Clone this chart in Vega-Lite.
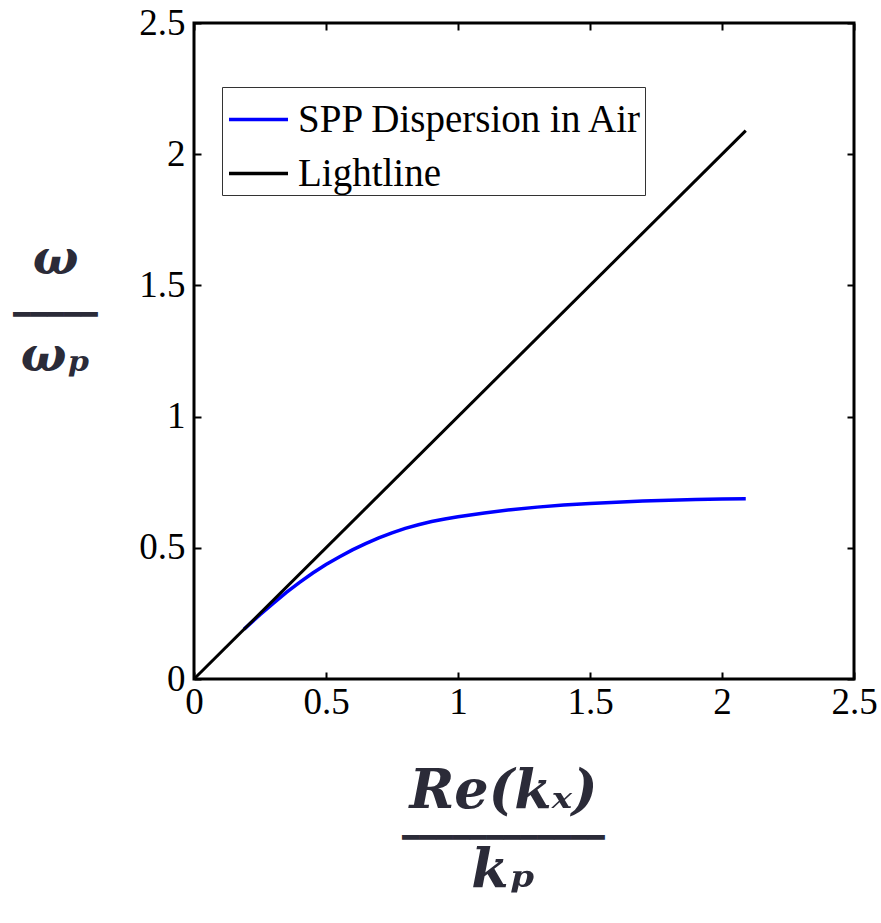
{
  "$schema": "https://vega.github.io/schema/vega-lite/v6.json",
  "width": 660,
  "height": 656,
  "autosize": {"type": "none"},
  "padding": {"left": 194, "top": 23, "right": 27, "bottom": 244},
  "background": "white",
  "config": {
    "view": {"stroke": "black", "strokeWidth": 3},
    "font": "Liberation Serif",
    "axis": {
      "domain": false,
      "grid": false,
      "format": "~g",
      "labelFont": "Liberation Serif",
      "labelFontSize": 37,
      "labelColor": "black",
      "labelFlush": false,
      "labelOverlap": false,
      "tickColor": "black",
      "tickWidth": 2,
      "tickSize": -7
    },
    "legend": {"labelFont": "Liberation Serif"}
  },
  "datasets": {
    "spp": [
      {"series": "SPP Dispersion in Air", "k": 0.19, "w": 0.19},
      {"series": "SPP Dispersion in Air", "k": 0.25, "w": 0.245},
      {"series": "SPP Dispersion in Air", "k": 0.3, "w": 0.288},
      {"series": "SPP Dispersion in Air", "k": 0.35, "w": 0.33},
      {"series": "SPP Dispersion in Air", "k": 0.4, "w": 0.368},
      {"series": "SPP Dispersion in Air", "k": 0.45, "w": 0.404},
      {"series": "SPP Dispersion in Air", "k": 0.5, "w": 0.436},
      {"series": "SPP Dispersion in Air", "k": 0.55, "w": 0.465},
      {"series": "SPP Dispersion in Air", "k": 0.6, "w": 0.492},
      {"series": "SPP Dispersion in Air", "k": 0.65, "w": 0.516},
      {"series": "SPP Dispersion in Air", "k": 0.7, "w": 0.538},
      {"series": "SPP Dispersion in Air", "k": 0.75, "w": 0.557},
      {"series": "SPP Dispersion in Air", "k": 0.8, "w": 0.574},
      {"series": "SPP Dispersion in Air", "k": 0.85, "w": 0.588},
      {"series": "SPP Dispersion in Air", "k": 0.9, "w": 0.6},
      {"series": "SPP Dispersion in Air", "k": 0.95, "w": 0.61},
      {"series": "SPP Dispersion in Air", "k": 1.0, "w": 0.618},
      {"series": "SPP Dispersion in Air", "k": 1.1, "w": 0.633},
      {"series": "SPP Dispersion in Air", "k": 1.2, "w": 0.645},
      {"series": "SPP Dispersion in Air", "k": 1.3, "w": 0.655},
      {"series": "SPP Dispersion in Air", "k": 1.4, "w": 0.663},
      {"series": "SPP Dispersion in Air", "k": 1.5, "w": 0.669},
      {"series": "SPP Dispersion in Air", "k": 1.6, "w": 0.674},
      {"series": "SPP Dispersion in Air", "k": 1.7, "w": 0.678},
      {"series": "SPP Dispersion in Air", "k": 1.8, "w": 0.681},
      {"series": "SPP Dispersion in Air", "k": 1.9, "w": 0.684},
      {"series": "SPP Dispersion in Air", "k": 2.0, "w": 0.686},
      {"series": "SPP Dispersion in Air", "k": 2.09, "w": 0.687}
    ],
    "light": [
      {"series": "Lightline", "k": 0, "w": 0},
      {"series": "Lightline", "k": 2.09, "w": 2.09}
    ]
  },
  "layer": [
    {
      "data": {"name": "spp"},
      "mark": {"type": "line", "strokeWidth": 3.5},
      "encoding": {
        "x": {
          "field": "k",
          "type": "quantitative",
          "scale": {"domain": [0, 2.5], "nice": false},
          "axis": {
            "orient": "bottom",
            "values": [0, 0.5, 1, 1.5, 2, 2.5],
            "labelPadding": 12,
            "title": ["Re(kₓ)", "kₚ"],
            "titleFont": "DejaVu Serif",
            "titleFontStyle": "italic",
            "titleFontWeight": "bold",
            "titleFontSize": 54,
            "titleColor": "#2b2b38",
            "titleLineHeight": 79,
            "titleAlign": "center",
            "titleBaseline": "alphabetic",
            "titleX": 309,
            "titleY": 128
          }
        },
        "y": {
          "field": "w",
          "type": "quantitative",
          "scale": {"domain": [0, 2.5], "nice": false},
          "axis": {
            "orient": "left",
            "values": [0, 0.5, 1, 1.5, 2, 2.5],
            "labelPadding": 16,
            "title": ["ω", "ωₚ"],
            "titleFont": "DejaVu Serif",
            "titleFontStyle": "italic",
            "titleFontWeight": "bold",
            "titleFontSize": 48,
            "titleColor": "#2b2b38",
            "titleLineHeight": 97,
            "titleAngle": 0,
            "titleAlign": "center",
            "titleBaseline": "alphabetic",
            "titleX": -139,
            "titleY": 250
          }
        },
        "color": {
          "field": "series",
          "type": "nominal",
          "scale": {
            "domain": ["SPP Dispersion in Air", "Lightline"],
            "range": ["#0000ff", "#000000"]
          },
          "legend": {
            "orient": "none",
            "legendX": 28,
            "legendY": 64,
            "title": null,
            "padding": 1,
            "strokeColor": "#333333",
            "fillColor": "white",
            "labelFont": "Liberation Serif",
            "labelFontSize": 39,
            "labelColor": "black",
            "labelLimit": 600,
            "labelOffset": 8,
            "rowPadding": 2,
            "symbolOffset": 4,
            "symbolType": "stroke",
            "symbolSize": 3481,
            "symbolStrokeWidth": 3.5
          }
        }
      }
    },
    {
      "data": {"name": "light"},
      "mark": {"type": "line", "strokeWidth": 3},
      "encoding": {
        "x": {
          "field": "k",
          "type": "quantitative",
          "axis": {
            "orient": "top",
            "values": [0, 0.5, 1, 1.5, 2, 2.5],
            "labels": false,
            "title": "━━━━━━━━━━━━",
            "titleFont": "DejaVu Sans",
            "titleFontSize": 28,
            "titleFontWeight": "normal",
            "titleColor": "#2b2b38",
            "titleAlign": "center",
            "titleBaseline": "alphabetic",
            "titleX": 309,
            "titleY": 823
          }
        },
        "y": {
          "field": "w",
          "type": "quantitative",
          "axis": {
            "orient": "right",
            "values": [0, 0.5, 1, 1.5, 2, 2.5],
            "labels": false,
            "title": "━━━━━",
            "titleFont": "DejaVu Sans",
            "titleFontSize": 28,
            "titleFontWeight": "normal",
            "titleColor": "#2b2b38",
            "titleAngle": 0,
            "titleAlign": "center",
            "titleBaseline": "alphabetic",
            "titleX": -799,
            "titleY": 300
          }
        },
        "color": {"field": "series", "type": "nominal"}
      }
    }
  ],
  "resolve": {"axis": {"x": "independent", "y": "independent"}}
}
